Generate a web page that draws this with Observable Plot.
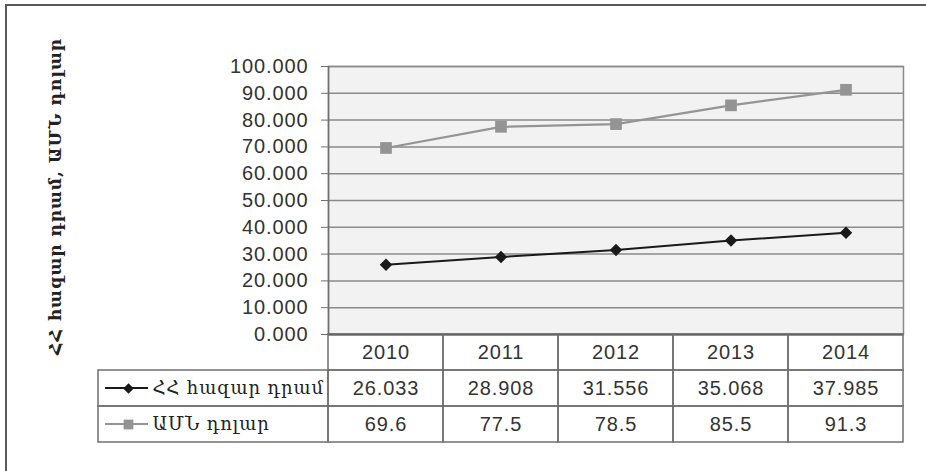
<!DOCTYPE html>
<html><head><meta charset="utf-8">
<script src="https://cdn.jsdelivr.net/npm/d3@7"></script>
<script src="https://cdn.jsdelivr.net/npm/@observablehq/plot@0.6"></script>
<style>
html,body{margin:0;padding:0;background:#fff;}
#wrap{position:relative;width:926px;height:471px;overflow:hidden;}
#wrap svg{position:absolute;left:0;top:0;}
#frame{position:absolute;left:5px;top:4px;right:0;bottom:0;border-top:2px solid #5a5a5a;border-left:2px solid #5a5a5a;}
</style></head><body><div id="wrap"><div id="frame"></div></div>
<script>
const years = [2010, 2011, 2012, 2013, 2014];
const amdValues = [26.033, 28.908, 31.556, 35.068, 37.985];
const usdValues = [69.6, 77.5, 78.5, 85.5, 91.3];
const seriesNames = ["ՀՀ հազար դրամ", "ԱՄՆ դոլար"];
const seriesColors = ["#1a1a1a", "#949494"];
const seriesFormats = [".3f", ".1f"];
const yTicks = [0, 10, 20, 30, 40, 50, 60, 70, 80, 90, 100];
const yLabel = "ՀՀ հազար դրամ, ԱՄՆ դոլար";

const rows = years.flatMap((yr, i) => [
  {year: yr, value: amdValues[i], series: seriesNames[0]},
  {year: yr, value: usdValues[i], series: seriesNames[1]}
]);
const s1 = rows.filter(d => d.series === seriesNames[0]);
const s2 = rows.filter(d => d.series === seriesNames[1]);

const firstEdge = years[0] - 0.5;
const lastEdge = years[years.length - 1] + 0.5;
const legendLeft = years[0] - 2.5;
const sansFont = "'Liberation Sans', Arial, sans-serif";
const serifFont = "'DejaVu Serif', serif";

const main = Plot.plot({
  width: 926, height: 471,
  marginLeft: 328, marginRight: 23, marginTop: 66, marginBottom: 137,
  style: {background: "transparent", fontFamily: sansFont, fontSize: "20px", color: "#333", letterSpacing: "0.9px"},
  x: {type: "linear", domain: [firstEdge, lastEdge], axis: null},
  y: {domain: [0, 100]},
  marks: [
    Plot.frame({fill: "#f2f2f2", stroke: "#8a8a8a", strokeWidth: 1.5}),
    Plot.ruleY(yTicks, {stroke: "#8a8a8a", strokeWidth: 1.5}),
    Plot.axisY({ticks: yTicks, tickFormat: d3.format(".3f"), tickSize: 7, tickPadding: 13,
      stroke: "#6f6f6f", fill: "#333", fontSize: 20, label: null}),
    Plot.ruleX([firstEdge], {stroke: "#6f6f6f", strokeWidth: 1.5}),
    Plot.ruleY([0], {stroke: "#555", strokeWidth: 2}),
    Plot.line(s2, {x: "year", y: "value", stroke: seriesColors[1], strokeWidth: 2.2}),
    Plot.dot(s2, {x: "year", y: "value", symbol: "square", r: 6.6, fill: seriesColors[1]}),
    Plot.line(s1, {x: "year", y: "value", stroke: seriesColors[0], strokeWidth: 2}),
    Plot.dot(s1, {x: "year", y: "value", symbol: "diamond2", r: 5.6, fill: seriesColors[0]}),
    Plot.text([yLabel], {frameAnchor: "left", textAnchor: "middle", rotate: -90, dx: -273, dy: -4,
      fontFamily: serifFont, fontSize: 17, fontWeight: "bold", fill: "#222"})
  ]
});

const rowKeys = ["year", ...seriesNames];
const cells = [];
years.forEach(yr => rowKeys.forEach(r => cells.push({x1: yr - 0.5, x2: yr + 0.5, row: r})));
seriesNames.forEach(r => cells.push({x1: legendLeft, x2: firstEdge, row: r}));

const table = Plot.plot({
  width: 926, height: 471,
  marginLeft: 98, marginRight: 23, marginTop: 334, marginBottom: 29,
  style: {background: "transparent", fontFamily: sansFont, fontSize: "20px", color: "#333", letterSpacing: "0.9px"},
  x: {type: "linear", domain: [legendLeft, lastEdge], axis: null},
  y: {type: "band", domain: rowKeys, padding: 0, axis: null},
  marks: [
    Plot.barX(cells, {x1: "x1", x2: "x2", y: "row", fill: "none", stroke: "#6f6f6f", strokeWidth: 1.5}),
    Plot.text(years, {x: d => d, y: () => "year", text: d => String(d), fill: "#333", fontSize: 20}),
    Plot.text(rows, {x: "year", y: "series",
      text: d => d3.format(seriesFormats[seriesNames.indexOf(d.series)])(d.value), fill: "#333", fontSize: 20}),
    Plot.barX(seriesNames, {x1: () => legendLeft, x2: () => firstEdge, y: d => d,
      fill: (d, i) => seriesColors[i], insetLeft: 7, insetRight: 180, insetTop: 17, insetBottom: 17}),
    Plot.dot([seriesNames[0]], {x: () => legendLeft, y: d => d, dx: 30, symbol: "diamond2", r: 4.8, fill: seriesColors[0]}),
    Plot.dot([seriesNames[1]], {x: () => legendLeft, y: d => d, dx: 30, symbol: "square", r: 5.5, fill: seriesColors[1]}),
    Plot.text(seriesNames, {x: () => legendLeft, y: d => d, dx: 54, textAnchor: "start",
      fontFamily: serifFont, fontSize: 18, fill: "#222", style: "letter-spacing:0"})
  ]
});

const wrap = document.getElementById("wrap");
wrap.appendChild(main);
wrap.appendChild(table);
</script>
</body></html>
